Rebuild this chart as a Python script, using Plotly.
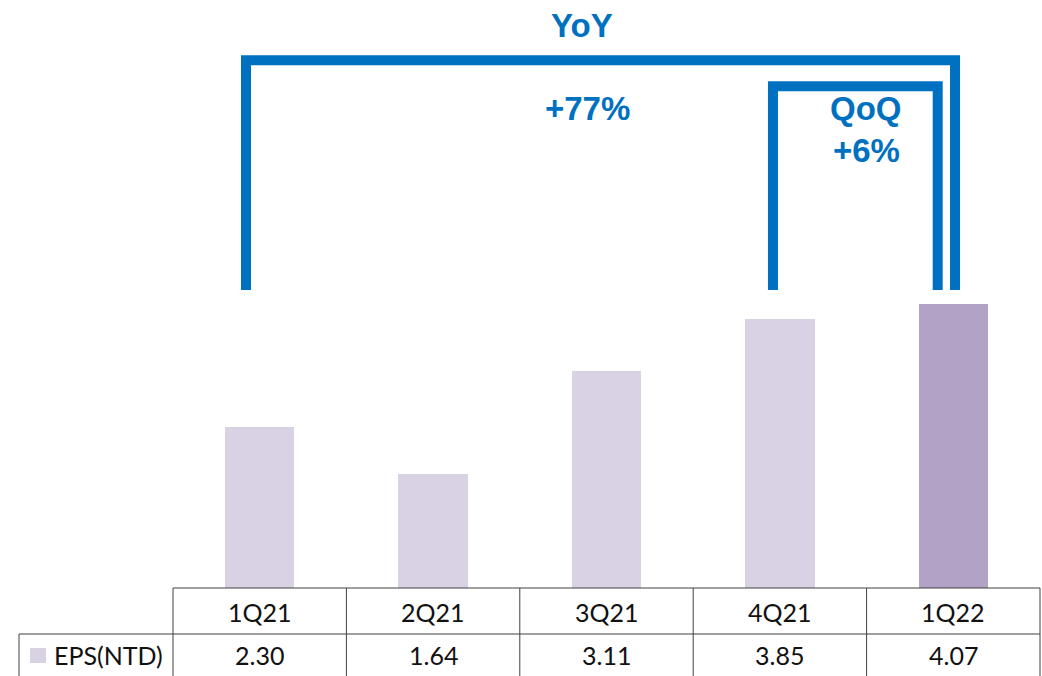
import plotly.graph_objects as go

# ---- data ----
quarters = ["1Q21", "2Q21", "3Q21", "4Q21", "1Q22"]
eps_ntd = [2.30, 1.64, 3.11, 3.85, 4.07]
series_name = "EPS(NTD)"
yoy_label = "YoY"
yoy_change = "+77%"
qoq_label = "QoQ"
qoq_change = "+6%"

# ---- styling ----
W, H = 1042, 676
light = "#D9D1E4"
dark = "#B1A2C6"
blue = "#0070C0"
grid = "#404040"
bar_colors = [light] * (len(quarters) - 1) + [dark]

def px(p):
    return p / W

def py(p):
    return 1 - p / H

x_left, x_right = 173, 1040
base_y = 588
mid_y = 634
ppu = 69.8  # pixels per unit

fig = go.Figure()
fig.add_trace(go.Bar(
    x=list(range(len(quarters))), y=eps_ntd, marker=dict(color=bar_colors, line=dict(width=0)),
    width=0.40, hoverinfo="skip", showlegend=False,
))

shapes = []
annotations = []

# brackets (data coordinates)
def bracket(xa, xb, top, bottom):
    return dict(type="path", xref="x", yref="y",
                path=f"M {xa},{bottom} L {xa},{top} L {xb},{top} L {xb},{bottom}",
                line=dict(color=blue, width=10))

shapes.append(bracket(-0.079, 4.01, 7.56, 4.27))
shapes.append(bracket(2.96, 3.91, 7.19, 4.27))

# table lines
def hline(y, x0, x1):
    return dict(type="line", xref="paper", yref="paper", x0=px(x0), x1=px(x1), y0=py(y), y1=py(y),
                line=dict(color=grid, width=1))

def vline(x, y0, y1):
    return dict(type="line", xref="paper", yref="paper", x0=px(x), x1=px(x), y0=py(y0), y1=py(y1),
                line=dict(color=grid, width=1))

shapes.append(hline(base_y, x_left, x_right))
shapes.append(hline(mid_y, 19, x_right))
shapes.append(vline(19, mid_y, H))
col_w = (x_right - x_left) / len(quarters)
for i in range(len(quarters) + 1):
    shapes.append(vline(x_left + i * col_w, base_y, H))

# legend swatch
shapes.append(dict(type="rect", xref="paper", yref="paper", x0=px(30), x1=px(46), y0=py(663), y1=py(648),
                   fillcolor=light, line=dict(width=0)))

cell_font = dict(family="Lato, 'Open Sans', sans-serif", size=25, color="#111111")
for i, (q, v) in enumerate(zip(quarters, eps_ntd)):
    annotations.append(dict(x=i, xref="x", y=py(612), yref="paper", text=q, showarrow=False,
                            font=cell_font, xanchor="center", yanchor="middle"))
    annotations.append(dict(x=i, xref="x", y=py(655), yref="paper", text=f"{v:.2f}", showarrow=False,
                            font=cell_font, xanchor="center", yanchor="middle"))
annotations.append(dict(x=px(52), xref="paper", y=py(655), yref="paper", text=series_name, showarrow=False,
                        font=cell_font, xanchor="left", yanchor="middle"))

big_font = dict(family="'Liberation Sans', Arial, sans-serif", size=33, color=blue)
for txt, cx, cy in [(f"<b>{yoy_label}</b>", 582, 26), (f"<b>{yoy_change}</b>", 587, 108),
                    (f"<b>{qoq_label}</b>", 866, 108), (f"<b>{qoq_change}</b>", 866, 150)]:
    annotations.append(dict(x=px(cx), xref="paper", y=py(cy), yref="paper", text=txt, showarrow=False,
                            font=big_font, xanchor="center", yanchor="middle"))

fig.update_layout(
    width=W, height=H, margin=dict(l=0, r=0, t=0, b=0),
    paper_bgcolor="white", plot_bgcolor="white",
    xaxis=dict(domain=[px(x_left), px(x_right)], range=[-0.5, len(quarters) - 0.5], visible=False, fixedrange=True),
    yaxis=dict(domain=[py(base_y), 1], range=[0, base_y / ppu], visible=False, fixedrange=True),
    shapes=shapes, annotations=annotations, bargap=0,
)

fig.write_html("out.html", config={"displayModeBar": False},
               post_script="document.body.style.margin='0';document.body.style.overflow='hidden';")
